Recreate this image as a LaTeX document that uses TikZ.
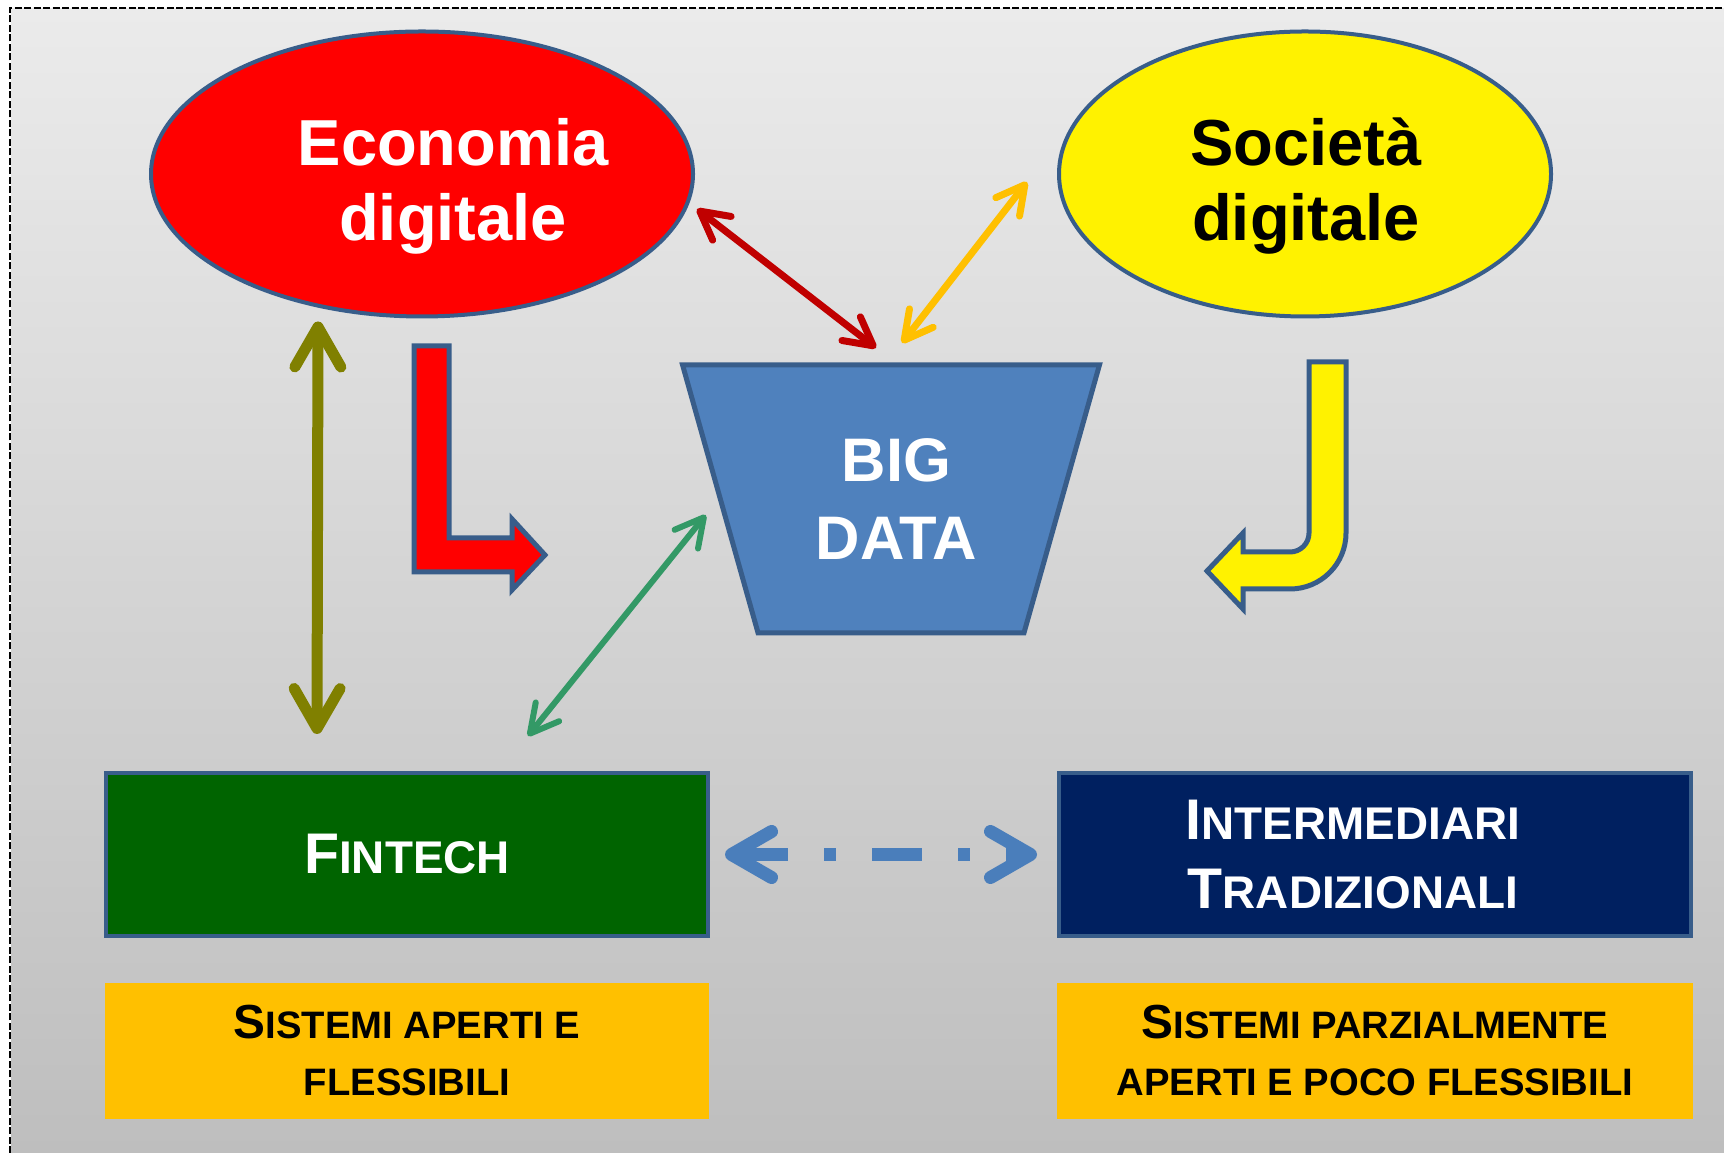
\documentclass[tikz,border=0pt]{standalone}
\usepackage{graphicx}
\usepackage{fontspec}
\setmainfont{Liberation Sans}
\usetikzlibrary{shapes.geometric}
\usetikzlibrary{arrows.meta}
\usetikzlibrary{positioning}

\definecolor{rimblue}{HTML}{385D8A}
\definecolor{bdblue}{HTML}{4F81BD}
\definecolor{fintechgreen}{HTML}{006400}
\definecolor{navy}{HTML}{002060}
\definecolor{tagorange}{HTML}{FFC000}
\definecolor{darkred}{HTML}{C00000}
\definecolor{amber}{HTML}{FFC000}
\definecolor{seagreen}{HTML}{339966}
\definecolor{olivegreen}{HTML}{808000}
\definecolor{steel}{HTML}{4A7EBB}
\definecolor{bgtop}{HTML}{EBEBEB}
\definecolor{bgbottom}{HTML}{BEBEBE}

% small caps done by hand
\newcommand{\smc}[1]{\scalebox{0.8}{#1}}

\begin{document}
\begin{tikzpicture}[
  bubble/.style={ellipse, draw=rimblue, line width=0.04cm, minimum height=2.85cm, inner sep=0pt},
  bubbletext/.style={font=\fontsize{18.5}{21.3}\selectfont\bfseries, align=center},
  panel/.style={rectangle, draw=rimblue, line width=0.04cm, minimum height=1.63cm, text=white, align=center, font=\fontsize{16.3}{19.9}\selectfont\bfseries},
  tag/.style={rectangle, fill=tagorange, minimum height=1.36cm, align=center, font=\fontsize{13.6}{16.2}\selectfont\bfseries},
  bigtip/.style={line width=0.11cm, {Straight Barb[round,length=0.40cm,width=0.46cm]}-{Straight Barb[round,length=0.40cm,width=0.46cm]}},
  smalltip/.style={line width=0.07cm, {Straight Barb[round,length=0.28cm,width=0.30cm]}-{Straight Barb[round,length=0.28cm,width=0.30cm]}},
  bendarrow/.style={draw=rimblue, line width=0.05cm, line join=miter}
]

\path[use as bounding box, fill=white] (0,0) rectangle (17.24,-11.53);

% backdrop
\shade[top color=bgtop, bottom color=bgbottom] (0.11,-0.09) rectangle (17.24,-11.53);
\draw[line width=0.025cm, dash pattern=on 0.07cm off 0.025cm] (0.10,-11.53) -- (0.10,-0.08) -- (17.24,-0.08);

% the two digital worlds
\node[bubble, fill=red, minimum width=5.42cm] (econ) at (4.22,-1.74) {};
\node[bubbletext, text=white] (econtext) at (4.53,-1.86) {Economia\\digitale};
\node[bubble, fill=yellow, minimum width=4.92cm] (soc) at (13.05,-1.74) {};
\node[bubbletext] (soctext) at (13.06,-1.86) {Società\\digitale};

% big data
\node[trapezium, trapezium angle=69, trapezium stretches=true, shape border rotate=180,
  draw=rimblue, fill=bdblue, line width=0.05cm, minimum width=4.18cm, minimum height=2.68cm,
  text=white, align=center, font=\fontsize{17.5}{22.4}\selectfont\bfseries] (bigdata) at (8.91,-4.99) {\hspace*{0.11cm}BIG\\\hspace*{0.11cm}DATA};

% actors and their systems
\node[panel, fill=fintechgreen, minimum width=6.02cm] (fintech) at (4.07,-8.545) {F\smc{INTECH}};
\node[panel, fill=navy, minimum width=6.32cm, right=3.47cm of fintech] (interm) {\hspace*{-0.44cm}I\smc{NTERMEDIARI}\\\hspace*{-0.44cm}T\smc{RADIZIONALI}};
\node[tag, minimum width=6.04cm, below=0.44cm of fintech] (openbox) {S\smc{ISTEMI APERTI E}\\\smc{FLESSIBILI}};
\node[tag, minimum width=6.36cm, below=0.44cm of interm] (partbox) {S\smc{ISTEMI PARZIALMENTE}\\\smc{APERTI E POCO FLESSIBILI}};

% links
\draw[bigtip, olivegreen] ([xshift=-1.04cm, yshift=-0.03cm]econ.south) -- ([xshift=-0.90cm, yshift=0.37cm]fintech.north);
\draw[smalltip, darkred] ([xshift=0.02cm, yshift=-0.35cm]econ.east) -- ([xshift=-0.15cm, yshift=0.145cm]bigdata.north);
\draw[smalltip, amber] ([xshift=0.11cm, yshift=0.195cm]bigdata.north) -- ([xshift=-0.30cm, yshift=-0.08cm]soc.west);
\draw[smalltip, seagreen, line width=0.06cm] ([xshift=1.21cm, yshift=0.35cm]fintech.north) -- ([xshift=-0.12cm, yshift=-0.16cm]bigdata.west);
\draw[bigtip, steel, line width=0.13cm, dash pattern=on 0.50cm off 0.36cm on 0.12cm off 0.36cm] ([xshift=0.15cm]fintech.east) -- ([xshift=-0.20cm]interm.west);

% turning arrows
\draw[bendarrow, fill=red] (4.14,-3.46) -- (4.49,-3.46) -- (4.49,-5.38) -- (5.12,-5.38) -- (5.12,-5.19)
  -- (5.45,-5.55) -- (5.12,-5.90) -- (5.12,-5.72) -- (4.14,-5.72) -- cycle;
\draw[bendarrow, fill=yellow] (13.09,-3.62) -- (13.46,-3.62) -- (13.46,-5.33) arc[start angle=0, end angle=-90, radius=0.56]
  -- (12.43,-5.89) -- (12.43,-6.09) -- (12.07,-5.71) -- (12.43,-5.33) -- (12.43,-5.52) -- (12.90,-5.52)
  arc[start angle=-90, end angle=0, radius=0.19] -- cycle;
\end{tikzpicture}
\end{document}
